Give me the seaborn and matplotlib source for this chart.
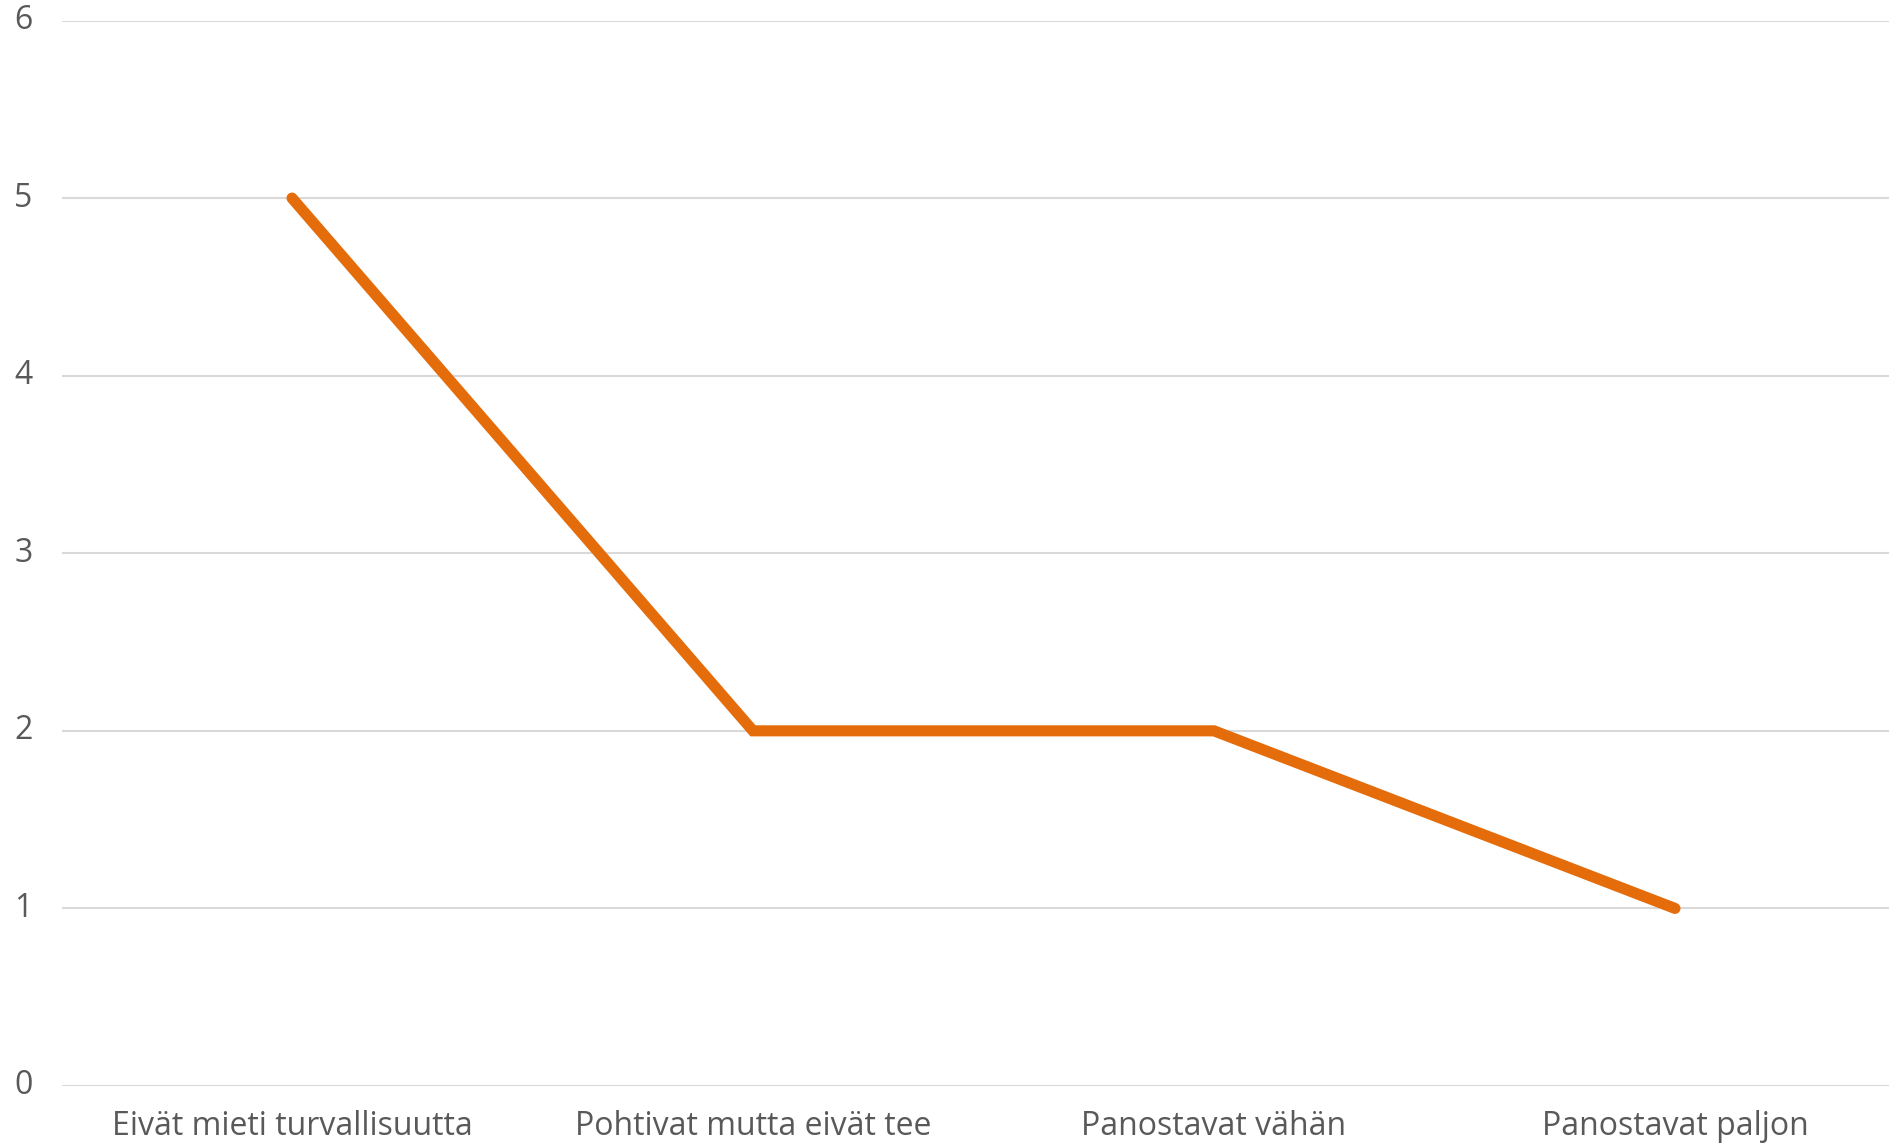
import matplotlib
matplotlib.use("Agg")
import matplotlib.pyplot as plt
import seaborn as sns
import pandas as pd

categories = ["Eivät mieti turvallisuutta", "Pohtivat mutta eivät tee",
              "Panostavat vähän", "Panostavat paljon"]
values = [5, 2, 2, 1]
y_ticks = [0, 1, 2, 3, 4, 5, 6]

df = pd.DataFrame({"ryhmä": categories, "määrä": values})

sns.set_theme(style="white")
plt.rcParams["font.family"] = ["Open Sans", "DejaVu Sans"]

fig = plt.figure(figsize=(18.9, 11.45), dpi=100)
ax = fig.add_axes([61.5 / 1890, 59 / 1145, 1844 / 1890, 1065.5 / 1145])

sns.lineplot(data=df, x="ryhmä", y="määrä", ax=ax, sort=False,
             color="#E46C0A", linewidth=8, solid_capstyle="round",
             solid_joinstyle="miter", zorder=3)

ax.set_xlim(-0.5, 3.5)
ax.set_ylim(0, 6)
ax.set_yticks(y_ticks)
ax.yaxis.grid(True, color="#D9D9D9", linewidth=1.5)
ax.xaxis.grid(False)
for s in ax.spines.values():
    s.set_visible(False)
ax.set_xlabel("")
ax.set_ylabel("")
ax.tick_params(axis="y", length=0, pad=21, labelsize=23, labelcolor="#595959")
ax.tick_params(axis="x", length=0, pad=17, labelsize=23, labelcolor="#595959")
for lbl in ax.get_yticklabels():
    lbl.set_va("center")

fig.savefig("out.png", dpi=100, facecolor="white")
